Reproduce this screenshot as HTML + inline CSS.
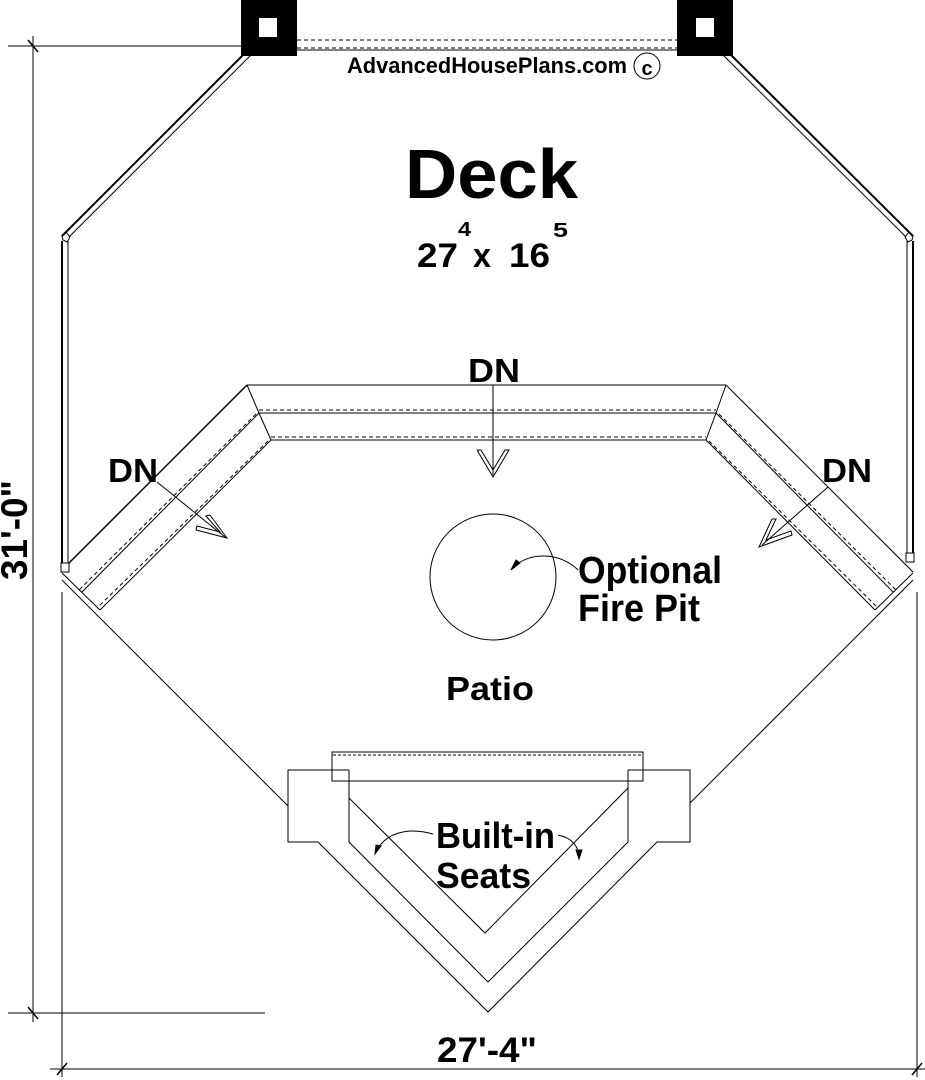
<!DOCTYPE html>
<html><head><meta charset="utf-8"><style>
html,body{margin:0;padding:0;background:#fff;}
svg{display:block;}
text{font-family:"Liberation Sans",Arial,sans-serif;font-weight:bold;fill:#000;}
</style></head><body>
<svg width="925" height="1080" viewBox="0 0 925 1080" xmlns="http://www.w3.org/2000/svg">
<g stroke="#000" fill="none" stroke-width="1">
<line x1="8" y1="46" x2="241" y2="46"/>
<line x1="33" y1="36" x2="33" y2="1022"/>
<line x1="28" y1="40" x2="38" y2="52" stroke-width="1.5"/>
<line x1="8" y1="1013" x2="265" y2="1013"/>
<line x1="28" y1="1007" x2="38" y2="1019" stroke-width="1.5"/>
<line x1="62" y1="592" x2="62" y2="1077"/>
<line x1="917" y1="592" x2="917" y2="1077"/>
<line x1="50" y1="1069" x2="925" y2="1069"/>
<line x1="57" y1="1075" x2="67" y2="1063" stroke-width="1.5"/>
<line x1="912" y1="1075" x2="922" y2="1063" stroke-width="1.5"/>
<line x1="297" y1="40" x2="677" y2="40" stroke-dasharray="4,3"/>
<line x1="297" y1="48" x2="677" y2="48" stroke-dasharray="4,3"/>
<line x1="297" y1="50" x2="677" y2="50"/>
<line x1="243" y1="55" x2="62" y2="236" stroke-width="2"/>
<line x1="251" y1="55" x2="69" y2="237"/>
<polygon points="62,236 66,232 70,237 67,242 63,240"/>
<line x1="62" y1="241" x2="62" y2="563" stroke-width="2"/>
<line x1="68" y1="241" x2="68" y2="563"/>
<rect x="61" y="563" width="8" height="9"/>
<line x1="731" y1="55" x2="913" y2="236" stroke-width="2"/>
<line x1="723" y1="55" x2="906" y2="237"/>
<polygon points="913,236 909,232 905,237 908,242 912,240"/>
<line x1="913" y1="241" x2="913" y2="553" stroke-width="2"/>
<line x1="907" y1="241" x2="907" y2="553"/>
<rect x="906" y="553" width="8" height="9"/>
<line x1="247" y1="385" x2="726" y2="385"/>
<line x1="247" y1="385" x2="69" y2="563" stroke-width="1.5"/>
<line x1="726" y1="385" x2="913" y2="572"/>
<line x1="259" y1="410" x2="716" y2="410" stroke-dasharray="4,3"/>
<line x1="259" y1="413" x2="716" y2="413"/>
<line x1="271" y1="437" x2="706" y2="437" stroke-dasharray="4,3"/>
<line x1="271" y1="440" x2="706" y2="440"/>
<line x1="247" y1="385" x2="259" y2="413"/>
<line x1="259" y1="413" x2="271" y2="440"/>
<line x1="726" y1="385" x2="716" y2="413"/>
<line x1="716" y1="413" x2="706" y2="440"/>
<line x1="259" y1="413" x2="82" y2="592"/>
<line x1="256" y1="414" x2="79" y2="590" stroke-dasharray="4,3"/>
<line x1="271" y1="440" x2="100" y2="610"/>
<line x1="268" y1="441" x2="97" y2="608" stroke-dasharray="4,3"/>
<line x1="62" y1="573" x2="100" y2="610"/>
<line x1="716" y1="413" x2="893" y2="592"/>
<line x1="719" y1="414" x2="896" y2="590" stroke-dasharray="4,3"/>
<line x1="706" y1="440" x2="875" y2="610"/>
<line x1="709" y1="441" x2="878" y2="608" stroke-dasharray="4,3"/>
<line x1="913" y1="573" x2="875" y2="610"/>
<line x1="62" y1="580" x2="288" y2="806"/>
<line x1="913" y1="580" x2="690" y2="803"/>
<polyline points="349,770 288,770 288,842 318,842 488,1012 657,842 690,842 690,770 628,770"/>
<polyline points="349,770 349,842 488,982 628,842 628,770"/>
<polyline points="349,798 485,933 628,788"/>
<rect x="332" y="752" width="311" height="29"/>
<line x1="333" y1="755" x2="642" y2="755" stroke-dasharray="3,2"/>
<circle cx="493" cy="577" r="63"/>
<path d="M578,570 C560,552 530,552 515,566"/>
<polygon points="511,570 520,563 516,560" fill="#000"/>
<path d="M433,834 C405,826 385,835 377,850"/>
<polygon points="375,854 381,846 376,845" fill="#000"/>
<path d="M558,835 C572,838 578,846 579,856"/>
<polygon points="579,859 576,850 582,850" fill="#000"/>
<line x1="493" y1="385" x2="493" y2="475"/>
<polyline points="477,450 493,477 509,450 505,450 493,470 481,450 477,450"/>
<line x1="157" y1="482" x2="225" y2="537"/>
<polyline points="210,515 227,538 196,530 197,526 220,532 206,516 210,515"/>
<line x1="828" y1="487" x2="762" y2="545"/>
<polyline points="772,519 759,547 792,535 791,531 766,540 776,519 772,519"/>
<circle cx="647" cy="66" r="13"/>
</g>
<rect x="241" y="0" width="56" height="56" fill="#000"/>
<rect x="259" y="18" width="18" height="19" fill="#fff"/>
<rect x="677" y="0" width="56" height="56" fill="#000"/>
<rect x="696" y="18" width="18" height="19" fill="#fff"/>
<text x="347" y="73" font-size="22" textLength="280" lengthAdjust="spacingAndGlyphs">AdvancedHousePlans.com</text>
<text x="647" y="75" font-size="20" text-anchor="middle">c</text>
<text x="405" y="198" font-size="70" textLength="173" lengthAdjust="spacingAndGlyphs">Deck</text>
<text x="417" y="267" font-size="34" textLength="41" lengthAdjust="spacingAndGlyphs">27</text>
<text x="458" y="236" font-size="20" textLength="13" lengthAdjust="spacingAndGlyphs">4</text>
<text x="473" y="267" font-size="34" textLength="18" lengthAdjust="spacingAndGlyphs">x</text>
<text x="509" y="267" font-size="34" textLength="41" lengthAdjust="spacingAndGlyphs">16</text>
<text x="553" y="237" font-size="20" textLength="15" lengthAdjust="spacingAndGlyphs">5</text>
<text x="468" y="382" font-size="33" textLength="52" lengthAdjust="spacingAndGlyphs">DN</text>
<text x="108" y="482" font-size="33" textLength="50" lengthAdjust="spacingAndGlyphs">DN</text>
<text x="822" y="482" font-size="33" textLength="50" lengthAdjust="spacingAndGlyphs">DN</text>
<text x="578" y="583" font-size="38" textLength="144" lengthAdjust="spacingAndGlyphs">Optional</text>
<text x="578" y="621" font-size="38" textLength="122" lengthAdjust="spacingAndGlyphs">Fire Pit</text>
<text x="446" y="700" font-size="33" textLength="88" lengthAdjust="spacingAndGlyphs">Patio</text>
<text x="436" y="848" font-size="36" textLength="119" lengthAdjust="spacingAndGlyphs">Built-in</text>
<text x="436" y="888" font-size="36" textLength="95" lengthAdjust="spacingAndGlyphs">Seats</text>
<text x="437" y="1062" font-size="35" textLength="100" lengthAdjust="spacingAndGlyphs">27'-4"</text>
<text transform="translate(27,580) rotate(-90)" font-size="37" textLength="100" lengthAdjust="spacingAndGlyphs">31'-0"</text>
</svg>
</body></html>
